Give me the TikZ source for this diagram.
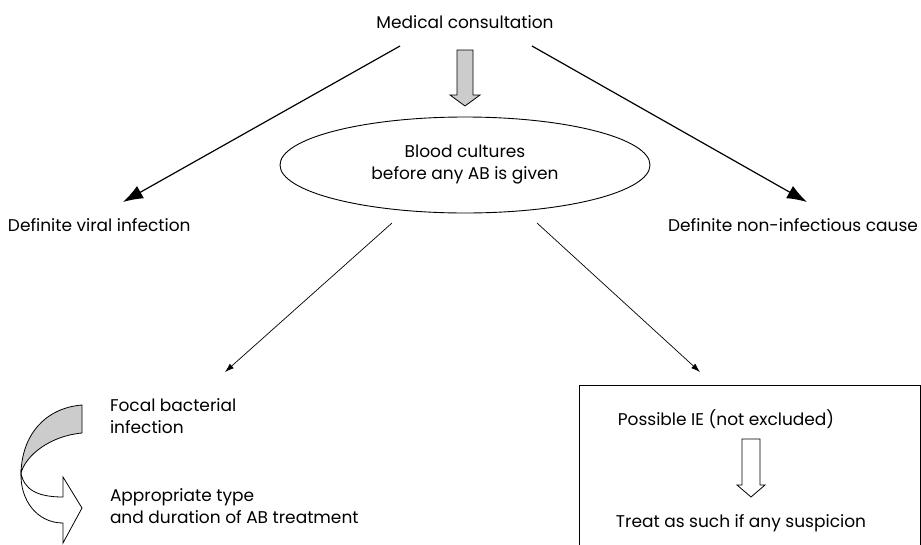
\documentclass[tikz,border=0pt]{standalone}
\usepackage{fontspec}
\setmainfont{Poppins}
\usetikzlibrary{positioning,calc,shapes.geometric,arrows.meta}

\begin{document}
\begin{tikzpicture}[x=1pt,y=-1pt,
				every node/.style={label text},
				label text/.style={font=\fontsize{17}{22}\selectfont,inner sep=0pt,outer sep=0pt},
				bigarrow/.style={line width=1.2pt,-{Latex[length=20pt,width=14pt]}},
				thinarrow/.style={line width=0.7pt,-{Latex[length=9pt,width=6pt]}},
				blockarrow/.style={draw,line width=0.8pt,line join=miter}]
				\clip (0,0) rectangle (921,544);
				\node (consult)  at (465,22)                {Medical consultation};
				\node (cultures) [draw,ellipse,line width=0.9pt,minimum width=370pt,minimum height=96pt,align=center]
				                 at (465,165)               {Blood cultures\\before any AB is given};
				\node (viral)    [anchor=west] at (8,225)   {Definite viral infection};
				\node (noninf)   [anchor=east] at (918,225) {Definite non-infectious cause};
				\node (focal)    [anchor=west,align=left] at (110,416) {Focal bacterial\\infection};
				\node (treatment)[anchor=west,align=left] at (110,506) {Appropriate type\\and duration of AB treatment};
				\node (iebox)    [draw,line width=0.8pt,anchor=north west,minimum width=341pt,minimum height=180pt] at (579,385) {};
				\node (possible) at (726,419)               {Possible IE (not excluded)};
				\node (treat)    at (741,523)               {Treat as such if any suspicion};
				
				\draw[bigarrow]  ([shift={(-65,24)}]consult.center) -- ([shift={(115,-23)}]viral.west);
				\draw[bigarrow]  ([shift={(67,24)}]consult.center) -- ([shift={(-111,-23)}]noninf.east);
				\draw[thinarrow] ([shift={(-73,58)}]cultures.center) -- ([shift={(115,-44)}]focal.west);
				\draw[thinarrow] ([shift={(72,58)}]cultures.center) -- ([shift={(121,-13)}]iebox.north west);
				\draw[blockarrow,fill=gray!40] (457,50) -- (473,50) -- (473,95) -- (480,95) -- (465,106)
					-- (450,95) -- (457,95) -- cycle;
				\draw[blockarrow,fill=white] (742,439) -- (760,439) -- (760,485) -- (765,485) -- (751,497)
					-- (737,485) -- (742,485) -- cycle;
				\draw[blockarrow,fill=gray!40] (82,405) .. controls (45,408) and (22,435) .. (21,473)
					.. controls (26,455) and (50,436) .. (82,433) -- cycle;
				\draw[blockarrow,fill=white] (21,473) .. controls (20,500) and (37,523) .. (63,523)
					-- (63,543) -- (82,508) -- (63,477) -- (63,497)
					.. controls (38,497) and (24,490) .. (21,473) -- cycle;
			\end{tikzpicture}
\end{document}
